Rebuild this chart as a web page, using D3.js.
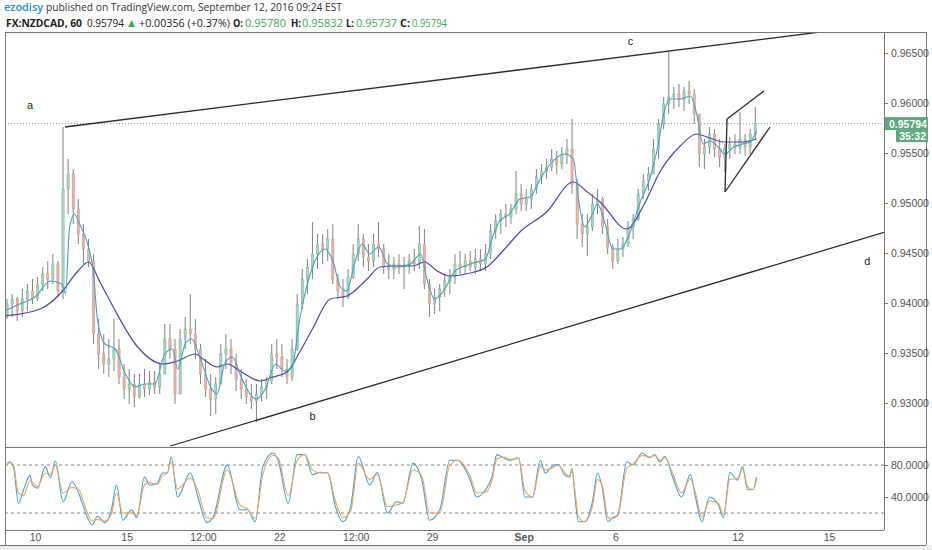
<!DOCTYPE html>
<html>
<head>
<meta charset="utf-8">
<script src="https://cdnjs.cloudflare.com/ajax/libs/d3/7.8.5/d3.min.js"></script>
<style>
body { margin: 0; background: #ffffff; }
svg { display: block; }
</style>
</head>
<body>
<svg id="chart" width="932" height="550"></svg>
<script>
"use strict";

// FX:NZDCAD, 4 hour bars from Aug 9 00:00, time counted in trading hours (weekends skipped)
var barOpen = [
    0.9389, 0.9399, 0.9404, 0.9392, 0.9404, 0.9412, 0.9404, 0.9419, 0.9429, 0.9424,
    0.9439, 0.9412, 0.9514, 0.9529, 0.9494, 0.9469, 0.9454, 0.9442, 0.9369, 0.9349,
    0.9339, 0.9344, 0.9354, 0.9326, 0.9314, 0.9319, 0.9306, 0.9319, 0.9314, 0.9321,
    0.9316, 0.9329, 0.9364, 0.9354, 0.9309, 0.9364, 0.9374, 0.9369, 0.9354, 0.9329,
    0.9314, 0.9304, 0.9319, 0.9349, 0.9354, 0.9339, 0.9324, 0.9314, 0.9306, 0.9302,
    0.9309, 0.9316, 0.9322, 0.9349, 0.9346, 0.9334, 0.9326, 0.9354, 0.9399, 0.9424,
    0.9436, 0.9449, 0.9459, 0.9454, 0.9464, 0.9424, 0.9412, 0.9406, 0.9426, 0.9449,
    0.9464, 0.9446, 0.9442, 0.9459, 0.9454, 0.9436, 0.9434, 0.9439, 0.9436, 0.9438,
    0.9442, 0.9439, 0.9459, 0.9419, 0.9399, 0.9406, 0.9414, 0.9422, 0.9426, 0.9439,
    0.9436, 0.9442, 0.9436, 0.9444, 0.9439, 0.9449, 0.9472, 0.9482, 0.9489, 0.9486,
    0.9494, 0.9509, 0.9499, 0.9504, 0.9514, 0.9526, 0.9532, 0.9536, 0.9544, 0.9539,
    0.9549, 0.9554, 0.9519, 0.9479, 0.9469, 0.9476, 0.9499, 0.9504, 0.9476, 0.9456,
    0.9442, 0.9454, 0.9459, 0.9476, 0.9484, 0.9509, 0.9522, 0.9529, 0.9554, 0.9579,
    0.9599, 0.9606, 0.9609, 0.9604, 0.9612, 0.9609, 0.9589, 0.9549, 0.9556, 0.9569,
    0.9554, 0.9546, 0.9554, 0.9559, 0.9556, 0.9564, 0.9556, 0.9569
];
var barHigh = [
    0.9404, 0.9409, 0.9406, 0.9414, 0.9419, 0.9424, 0.9426, 0.9436, 0.9442, 0.9449,
    0.9442, 0.9576, 0.9544, 0.9534, 0.9504, 0.9479, 0.9464, 0.9449, 0.9384, 0.9369,
    0.9364, 0.9384, 0.9364, 0.9339, 0.9334, 0.9329, 0.9329, 0.9334, 0.9332, 0.9332,
    0.9339, 0.9379, 0.9379, 0.9364, 0.9374, 0.9386, 0.9409, 0.9384, 0.9359, 0.9344,
    0.9329, 0.9326, 0.9359, 0.9369, 0.9364, 0.9349, 0.9334, 0.9324, 0.9319, 0.9319,
    0.9324, 0.9326, 0.9359, 0.9364, 0.9359, 0.9344, 0.9364, 0.9409, 0.9434, 0.9444,
    0.9481, 0.9469, 0.9469, 0.9474, 0.9479, 0.9429, 0.9424, 0.9434, 0.9459, 0.9479,
    0.9469, 0.9459, 0.9469, 0.9481, 0.9459, 0.9449, 0.9446, 0.9449, 0.9446, 0.9449,
    0.9454, 0.9477, 0.9474, 0.9424, 0.9414, 0.9419, 0.9429, 0.9434, 0.9449, 0.9452,
    0.9449, 0.9452, 0.9454, 0.9454, 0.9459, 0.9479, 0.9489, 0.9494, 0.9499, 0.9499,
    0.9532, 0.9519, 0.9514, 0.9519, 0.9534, 0.9539, 0.9544, 0.9554, 0.9552, 0.9556,
    0.9564, 0.9584, 0.9524, 0.9489, 0.9489, 0.9509, 0.9514, 0.9506, 0.9484, 0.9459,
    0.9464, 0.9466, 0.9482, 0.9489, 0.9514, 0.9529, 0.9536, 0.9564, 0.9584, 0.9606,
    0.9651, 0.9616, 0.9619, 0.9616, 0.9622, 0.9614, 0.9589, 0.9564, 0.9576, 0.9574,
    0.9564, 0.9559, 0.9566, 0.9569, 0.9591, 0.9569, 0.9574, 0.9596
];
var barLow = [
    0.9384, 0.9386, 0.9382, 0.9386, 0.9392, 0.9399, 0.9402, 0.9412, 0.9414, 0.9419,
    0.9406, 0.9404, 0.9489, 0.9479, 0.9459, 0.9439, 0.9436, 0.9359, 0.9334, 0.9329,
    0.9326, 0.9332, 0.9319, 0.9304, 0.9299, 0.9296, 0.9304, 0.9306, 0.9308, 0.9309,
    0.9309, 0.9329, 0.9344, 0.9299, 0.9309, 0.9354, 0.9359, 0.9344, 0.9319, 0.9306,
    0.9287, 0.9289, 0.9319, 0.9334, 0.9329, 0.9312, 0.9304, 0.9299, 0.9294, 0.9281,
    0.9302, 0.9304, 0.9319, 0.9334, 0.9326, 0.9319, 0.9322, 0.9352, 0.9394, 0.9409,
    0.9424, 0.9434, 0.9439, 0.9442, 0.9419, 0.9404, 0.9396, 0.9404, 0.9424, 0.9442,
    0.9436, 0.9432, 0.9436, 0.9446, 0.9429, 0.9424, 0.9424, 0.9429, 0.9414, 0.9429,
    0.9432, 0.9434, 0.9414, 0.9386, 0.9389, 0.9392, 0.9406, 0.9409, 0.9419, 0.9429,
    0.9429, 0.9432, 0.9429, 0.9432, 0.9432, 0.9444, 0.9464, 0.9469, 0.9476, 0.9479,
    0.9489, 0.9492, 0.9492, 0.9494, 0.9509, 0.9519, 0.9524, 0.9532, 0.9529, 0.9534,
    0.9539, 0.9509, 0.9464, 0.9456, 0.9447, 0.9472, 0.9489, 0.9469, 0.9449, 0.9434,
    0.9439, 0.9446, 0.9456, 0.9464, 0.9482, 0.9504, 0.9512, 0.9529, 0.9544, 0.9574,
    0.9589, 0.9594, 0.9596, 0.9592, 0.9599, 0.9579, 0.9536, 0.9534, 0.9549, 0.9546,
    0.9536, 0.9531, 0.9544, 0.9549, 0.9549, 0.9547, 0.9549, 0.9564
];
var barClose = [
    0.9399, 0.9404, 0.9392, 0.9404, 0.9412, 0.9404, 0.9419, 0.9429, 0.9424, 0.9439,
    0.9412, 0.9514, 0.9529, 0.9494, 0.9469, 0.9454, 0.9442, 0.9369, 0.9349, 0.9339,
    0.9344, 0.9354, 0.9326, 0.9314, 0.9319, 0.9306, 0.9319, 0.9314, 0.9321, 0.9316,
    0.9329, 0.9364, 0.9354, 0.9309, 0.9364, 0.9374, 0.9369, 0.9354, 0.9329, 0.9314,
    0.9304, 0.9319, 0.9349, 0.9354, 0.9339, 0.9324, 0.9314, 0.9306, 0.9302, 0.9309,
    0.9316, 0.9322, 0.9349, 0.9346, 0.9334, 0.9326, 0.9354, 0.9399, 0.9424, 0.9436,
    0.9449, 0.9459, 0.9454, 0.9464, 0.9424, 0.9412, 0.9406, 0.9426, 0.9449, 0.9464,
    0.9446, 0.9442, 0.9459, 0.9454, 0.9436, 0.9434, 0.9439, 0.9436, 0.9438, 0.9442,
    0.9439, 0.9459, 0.9419, 0.9399, 0.9406, 0.9414, 0.9422, 0.9426, 0.9439, 0.9436,
    0.9442, 0.9436, 0.9444, 0.9439, 0.9449, 0.9472, 0.9482, 0.9489, 0.9486, 0.9494,
    0.9509, 0.9499, 0.9504, 0.9514, 0.9526, 0.9532, 0.9536, 0.9544, 0.9539, 0.9549,
    0.9554, 0.9519, 0.9479, 0.9469, 0.9476, 0.9499, 0.9504, 0.9476, 0.9456, 0.9442,
    0.9454, 0.9459, 0.9476, 0.9484, 0.9509, 0.9522, 0.9529, 0.9554, 0.9579, 0.9599,
    0.9606, 0.9609, 0.9604, 0.9612, 0.9609, 0.9589, 0.9549, 0.9556, 0.9569, 0.9554,
    0.9546, 0.9554, 0.9559, 0.9556, 0.9564, 0.9556, 0.9569, 0.95794
];
var barHours = 4;

// moving averages (hour, price)
var fastHours = [
    0, 12, 24, 36, 45, 48, 51, 55, 59, 66, 70, 73, 79, 87, 95, 103, 110, 118, 126, 132,
    136, 142, 147, 154, 162, 167, 173, 179, 185, 193, 198, 205, 213, 220, 226, 232, 238, 244, 252, 258,
    264, 269, 275, 281, 287, 294, 301, 308, 319, 327, 332, 338, 346, 354, 366, 378, 383, 389, 397, 405,
    413, 421, 429, 440, 447, 451, 456, 462, 466, 472, 478, 484, 492, 499, 507, 513, 518, 523, 531, 539,
    544, 549, 554, 561, 566, 573, 580, 586, 591
];
var fastValues = [
    0.9392, 0.9399, 0.9406, 0.9422, 0.9419, 0.9409, 0.9474, 0.9489, 0.9479, 0.9456,
    0.9429, 0.9384, 0.9359, 0.9354, 0.9329, 0.9316, 0.9319, 0.9319, 0.9349, 0.9354,
    0.9334, 0.9359, 0.9364, 0.9344, 0.9316, 0.9309, 0.9339, 0.9346, 0.9329, 0.9309,
    0.9304, 0.9314, 0.9339, 0.9332, 0.9336, 0.9384, 0.9419, 0.9442, 0.9454, 0.9442,
    0.9416, 0.9412, 0.9439, 0.9459, 0.9449, 0.9456, 0.9439, 0.9436, 0.9439, 0.9449,
    0.9424, 0.9404, 0.9414, 0.9432, 0.9439, 0.9444, 0.9464, 0.9482, 0.9489, 0.9504,
    0.9506, 0.9524, 0.9539, 0.9549, 0.9544, 0.9504, 0.9476, 0.9489, 0.9499, 0.9479,
    0.9454, 0.9454, 0.9472, 0.9499, 0.9524, 0.9554, 0.9589, 0.9604, 0.9604, 0.9607,
    0.9589, 0.9559, 0.9562, 0.9556, 0.9549, 0.9556, 0.9559, 0.9561, 0.9572
];
var slowHours = [
    0, 28, 45, 57, 66, 75, 85, 104, 125, 136, 150, 156, 167, 175, 185, 201, 211, 222, 232, 242,
    256, 269, 285, 295, 305, 321, 330, 340, 350, 366, 379, 393, 405, 426, 447, 458, 468, 489, 502, 515,
    531, 544, 552, 565, 580, 591
];
var slowValues = [
    0.9387, 0.9394, 0.9411, 0.9431, 0.9441, 0.9421, 0.9397, 0.9357, 0.9339, 0.9342,
    0.9349, 0.9344, 0.9336, 0.9339, 0.9332, 0.9322, 0.9326, 0.9331, 0.9351, 0.9374,
    0.9404, 0.9407, 0.9424, 0.9436, 0.9437, 0.9437, 0.9441, 0.9432, 0.9427, 0.9430,
    0.9436, 0.9454, 0.9471, 0.9491, 0.9521, 0.9511, 0.9501, 0.9474, 0.9497, 0.9531,
    0.9557, 0.9569, 0.9566, 0.9561, 0.9561, 0.9564
];

// stochastic %K and %D
var stochHours = [
    2, 4, 7, 11, 15, 20, 22, 26, 32, 36, 40, 46, 53, 59, 62, 69, 73, 79, 84, 88,
    93, 100, 104, 110, 114, 120, 124, 128, 131, 136, 146, 152, 159, 164, 175, 185, 191, 197, 203, 211,
    215, 223, 230, 236, 242, 248, 254, 260, 266, 272, 278, 287, 293, 301, 308, 313, 321, 328, 334, 342,
    350, 356, 366, 371, 378, 383, 387, 392, 397, 404, 409, 415, 421, 425, 430, 435, 440, 444, 446, 448,
    451, 456, 462, 466, 470, 474, 478, 482, 489, 494, 501, 507, 511, 515, 519, 525, 532, 539, 543, 548,
    554, 561, 565, 570, 576, 580, 584, 588, 591
];
var stochK = [
    82, 84, 78, 32, 49, 67, 55, 51, 78, 64, 85, 34, 59, 42, 28, 5, 16, 8, 24, 55,
    11, 24, 14, 65, 55, 57, 70, 70, 90, 40, 70, 40, 8, 15, 80, 24, 24, 9, 78, 95,
    86, 32, 93, 93, 68, 71, 70, 28, 9, 28, 91, 55, 71, 20, 34, 32, 82, 61, 11, 24,
    86, 86, 61, 40, 49, 65, 93, 89, 86, 89, 40, 40, 86, 70, 78, 81, 68, 65, 76, 45,
    9, 9, 34, 70, 49, 9, 14, 18, 84, 80, 95, 89, 93, 84, 91, 65, 40, 68, 40, 9,
    40, 30, 14, 71, 61, 78, 49, 49, 65
];
var stochD = [
    80, 83, 80, 45, 42, 60, 58, 53, 70, 68, 80, 45, 52, 48, 34, 10, 12, 10, 18, 45,
    20, 20, 17, 55, 58, 56, 66, 70, 84, 50, 64, 48, 14, 13, 74, 30, 25, 13, 68, 92,
    89, 42, 86, 93, 74, 70, 70, 35, 14, 22, 82, 62, 68, 28, 30, 33, 74, 66, 20, 20,
    80, 86, 66, 45, 46, 60, 88, 90, 87, 88, 48, 40, 78, 74, 76, 80, 71, 66, 73, 52,
    15, 9, 28, 62, 53, 15, 13, 17, 76, 81, 92, 90, 92, 86, 89, 70, 45, 63, 45, 15,
    35, 32, 18, 62, 63, 75, 53, 49, 62
];

var priceTicks = [0.930, 0.935, 0.940, 0.945, 0.950, 0.955, 0.960, 0.965];
var stochTicks = [40, 80];
var stochBands = [20, 80];
var timeTickHours = [24, 96, 156, 216, 276, 336, 408, 480, 576, 648];
var timeTickLabels = ["10", "15", "12:00", "22", "12:00", "29", "Sep", "6", "12", "15"];
var lastPrice = 0.95794;

// drawn trend lines and the flag, [hour, price] end points
var trendLines = [
    [[47.5, 0.9576], [640.9, 0.9671]],
    [[130.3, 0.9257], [700.0, 0.9474]],
    [[567.8, 0.9584], [596.8, 0.9612]],
    [[566.2, 0.9511], [601.6, 0.9576]],
    [[567.8, 0.9584], [566.2, 0.9511]]
];
var noteText = ["a", "b", "c", "d"];
var noteHours = [20, 242, 492, 678];
var notePrices = [0.9598, 0.9287, 0.9662, 0.9442];

var left = 5, right = 884, frameRight = 926;
var mainTop = 32, mainBottom = 447, indBottom = 530, axisBottom = 545;

var svg = d3.select("#chart");

var x = d3.scaleLinear().domain([0, 648]).range([4.5, 829.1]);
var y = d3.scaleLinear().domain([0.930, 0.965]).range([403, 53]);
var ys = d3.scaleLinear().domain([0, 100]).range([529, 449]);

// backgrounds
svg.append("rect")
    .attr("x", 0).attr("y", axisBottom).attr("width", 932).attr("height", 550 - axisBottom)
    .attr("fill", "#eceeef")
;

svg.append("defs").append("clipPath").attr("id", "mainClip")
    .append("rect")
    .attr("x", left).attr("y", mainTop)
    .attr("width", right - left).attr("height", mainBottom - mainTop)
;

var main = svg.append("g").attr("clip-path", "url(#mainClip)");

// last price dotted line
main.append("line")
    .attr("x1", left).attr("x2", right)
    .attr("y1", y(lastPrice)).attr("y2", y(lastPrice))
    .attr("stroke", "#7a7a7a")
    .attr("stroke-width", 0.8)
    .attr("stroke-dasharray", "1,2")
;

// bars
var bars = main.append("g")
    .selectAll("g")
    .data(barClose)
    .enter()
    .append("g")
;

bars.append("line")
    .attr("x1", function(d, i){return x(i * barHours + 2);})
    .attr("x2", function(d, i){return x(i * barHours + 2);})
    .attr("y1", function(d, i){return y(barHigh[i]);})
    .attr("y2", function(d, i){return y(barLow[i]);})
    .attr("stroke", "#828282")
    .attr("stroke-width", 1)
;

bars.append("rect")
    .attr("x", function(d, i){return x(i * barHours + 2) - 1.1;})
    .attr("width", 2.2)
    .attr("y", function(d, i){return y(Math.max(barOpen[i], d));})
    .attr("height", function(d, i){return Math.max(1, Math.abs(y(barOpen[i]) - y(d)));})
    .attr("fill", function(d, i){return d >= barOpen[i] ? "#a9d6bf" : "#eeb0a9";})
    .attr("stroke", function(d, i){return d >= barOpen[i] ? "#7aa891" : "#c4918b";})
    .attr("stroke-width", 0.5)
;

var maLine = d3.line()
    .x(function(d){return x(d[0]);})
    .y(function(d){return y(d[1]);})
    .curve(d3.curveMonotoneX)
;

main.append("path")
    .datum(slowHours.map(function(h, i){return [h, slowValues[i]];}))
    .attr("d", maLine)
    .attr("fill", "none")
    .attr("stroke", "#4a4aa6")
    .attr("stroke-width", 1.2)
;

main.append("path")
    .datum(fastHours.map(function(h, i){return [h, fastValues[i]];}))
    .attr("d", maLine)
    .attr("fill", "none")
    .attr("stroke", "#45a3b8")
    .attr("stroke-width", 1.1)
;

// trend lines
main.selectAll(".trend")
    .data(trendLines)
    .enter()
    .append("line")
    .attr("class", "trend")
    .attr("x1", function(d){return x(d[0][0]);})
    .attr("y1", function(d){return y(d[0][1]);})
    .attr("x2", function(d){return x(d[1][0]);})
    .attr("y2", function(d){return y(d[1][1]);})
    .attr("stroke", "#2a2a2a")
    .attr("stroke-width", 1.3)
;

main.selectAll(".note")
    .data(noteText)
    .enter()
    .append("text")
    .attr("class", "note")
    .attr("x", function(d, i){return x(noteHours[i]);})
    .attr("y", function(d, i){return y(notePrices[i]);})
    .attr("text-anchor", "middle")
    .attr("dominant-baseline", "central")
    .attr("font-family", "Liberation Sans, Arial, sans-serif")
    .attr("font-size", "11px")
    .attr("fill", "#222")
    .text(function(d){return d;})
;

// stochastic panel
var ind = svg.append("g");

ind.selectAll(".band")
    .data(stochBands)
    .enter()
    .append("line")
    .attr("class", "band")
    .attr("x1", left).attr("x2", right)
    .attr("y1", function(d){return ys(d);})
    .attr("y2", function(d){return ys(d);})
    .attr("stroke", "#6a6a6a")
    .attr("stroke-width", 0.8)
    .attr("stroke-dasharray", "3,3")
;

var stochLine = function(values) {
    return d3.line()
        .x(function(d){return x(d);})
        .y(function(d, i){return ys(values[i]);})
        .curve(d3.curveMonotoneX)(stochHours);
};

ind.append("path")
    .attr("d", stochLine(stochK))
    .attr("fill", "none")
    .attr("stroke", "#3f9fe6")
    .attr("stroke-width", 1.1)
;

ind.append("path")
    .attr("d", stochLine(stochD))
    .attr("fill", "none")
    .attr("stroke", "#f0a45c")
    .attr("stroke-width", 1.1)
;

// frame
var frame = svg.append("g")
    .attr("stroke", "#777")
    .attr("stroke-width", 1)
    .attr("shape-rendering", "crispEdges")
;
frame.append("line").attr("x1", left).attr("x2", frameRight).attr("y1", mainTop).attr("y2", mainTop);
frame.append("line").attr("x1", left).attr("x2", frameRight).attr("y1", mainBottom).attr("y2", mainBottom);
frame.append("line").attr("x1", left).attr("x2", right).attr("y1", indBottom).attr("y2", indBottom);
frame.append("line").attr("x1", 0).attr("x2", frameRight).attr("y1", axisBottom).attr("y2", axisBottom);
frame.append("line").attr("x1", left).attr("x2", left).attr("y1", mainTop).attr("y2", axisBottom);
frame.append("line").attr("x1", right).attr("x2", right).attr("y1", mainTop).attr("y2", indBottom);
frame.append("line").attr("x1", frameRight).attr("x2", frameRight).attr("y1", mainTop).attr("y2", axisBottom);

// axes
var styleAxis = function(g) {
    g.select(".domain").remove();
    g.selectAll(".tick line").attr("stroke", "#777");
    g.selectAll(".tick text")
        .attr("fill", "#555")
        .attr("font-family", "Liberation Sans, Arial, sans-serif")
        .attr("font-size", "10.5px")
    ;
};

svg.append("g")
    .attr("transform", "translate(" + right + ",0)")
    .call(d3.axisRight(y).tickValues(priceTicks).tickSize(4).tickPadding(3)
        .tickFormat(function(d){return d.toFixed(5);}))
    .call(styleAxis)
;

svg.append("g")
    .attr("transform", "translate(" + right + ",0)")
    .call(d3.axisRight(ys).tickValues(stochTicks).tickSize(4).tickPadding(3)
        .tickFormat(function(d){return d.toFixed(4);}))
    .call(styleAxis)
;

var timeAxis = svg.append("g")
    .attr("transform", "translate(0," + indBottom + ")")
    .call(d3.axisBottom(x).tickValues(timeTickHours).tickSize(0).tickPadding(4)
        .tickFormat(function(d, i){return timeTickLabels[i];}))
    .call(styleAxis)
;
timeAxis.selectAll(".tick text")
    .attr("font-weight", function(d, i){return timeTickLabels[i] === "Sep" ? "bold" : "normal";})
;

// last price tag and countdown
var tag = svg.append("g");
tag.append("rect")
    .attr("x", right + 1).attr("y", y(lastPrice) - 6.5)
    .attr("width", 43).attr("height", 13)
    .attr("fill", "#5ea77f")
;
tag.append("text")
    .attr("x", right + 5).attr("y", y(lastPrice))
    .attr("dominant-baseline", "central")
    .attr("font-family", "Liberation Sans, Arial, sans-serif")
    .attr("font-size", "10.5px")
    .attr("font-weight", "bold")
    .attr("fill", "#fff")
    .text(lastPrice.toFixed(5))
;
tag.append("rect")
    .attr("x", right + 12).attr("y", y(lastPrice) + 6.5)
    .attr("width", 32).attr("height", 12)
    .attr("fill", "#5ea77f")
;
tag.append("text")
    .attr("x", right + 42).attr("y", y(lastPrice) + 12.5)
    .attr("dominant-baseline", "central")
    .attr("text-anchor", "end")
    .attr("font-family", "Liberation Sans, Arial, sans-serif")
    .attr("font-size", "10.5px")
    .attr("font-weight", "bold")
    .attr("fill", "#fff")
    .text("35:32")
;

// header, each piece stretched to the span it takes in the published image
var green = "#3caa5a";
var headParts = [
    {t: "ezodisy", x: 4, w: 39, y: 11, c: "#2a8fd0", b: 600, s: 11},
    {t: "published on TradingView.com, September 12, 2016 09:24 EST", x: 46, w: 296, y: 11, c: "#333", b: "normal", s: 11},
    {t: "FX:NZDCAD, 60", x: 6, w: 76, y: 26.5, c: "#222", b: "bold", s: 11},
    {t: "0.95794", x: 87, w: 37, y: 26.5, c: "#222", b: "normal", s: 11},
    {t: "\u25B2", x: 126, w: 11, y: 26.5, c: green, b: "normal", s: 12},
    {t: "+0.00356 (+0.37%)", x: 139, w: 91, y: 26.5, c: "#222", b: "normal", s: 11},
    {t: "O:", x: 233, w: 10, y: 26.5, c: "#222", b: "bold", s: 11},
    {t: "0.95780", x: 245, w: 41, y: 26.5, c: green, b: "normal", s: 11},
    {t: "H:", x: 291, w: 10, y: 26.5, c: "#222", b: "bold", s: 11},
    {t: "0.95832", x: 302, w: 41, y: 26.5, c: green, b: "normal", s: 11},
    {t: "L:", x: 346, w: 8, y: 26.5, c: "#222", b: "bold", s: 11},
    {t: "0.95737", x: 356, w: 41, y: 26.5, c: green, b: "normal", s: 11},
    {t: "C:", x: 400, w: 10, y: 26.5, c: "#222", b: "bold", s: 11},
    {t: "0.95794", x: 412, w: 35, y: 26.5, c: green, b: "normal", s: 11}
];
svg.append("g")
    .selectAll("text")
    .data(headParts)
    .enter()
    .append("text")
    .attr("x", function(d){return d.x;})
    .attr("y", function(d){return d.y;})
    .attr("textLength", function(d){return d.w;})
    .attr("lengthAdjust", "spacingAndGlyphs")
    .attr("font-family", "Open Sans, sans-serif")
    .attr("font-size", function(d){return d.s + "px";})
    .attr("font-weight", function(d){return d.b;})
    .attr("fill", function(d){return d.c;})
    .text(function(d){return d.t;})
;
</script>
</body>
</html>
